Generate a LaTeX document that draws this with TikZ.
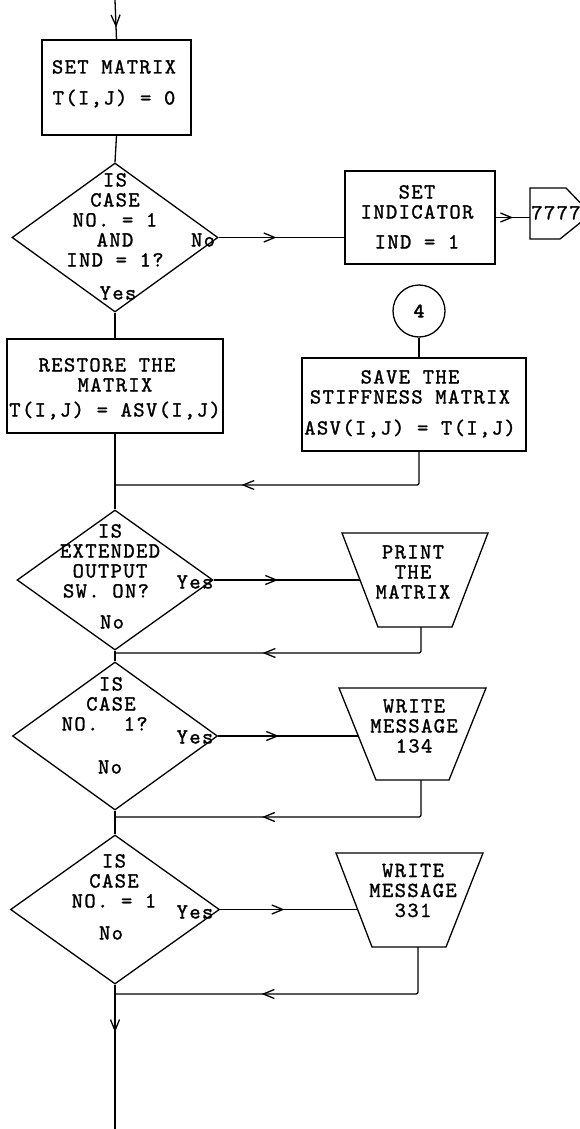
\documentclass[tikz,border=0pt]{standalone}
\usepackage{fontspec}
\newfontfamily\lmt{lmmono10-regular.otf}[LetterSpace=6.5,FakeBold=1.3]
\newfontfamily\lmtb{lmmono10-regular.otf}[FakeBold=3]
\usetikzlibrary{shapes.geometric,arrows.meta,decorations.markings}
\newcommand\sr{\rule[-5pt]{0pt}{23pt}}
\newcommand\tf{\lmt\fontsize{21.5}{20}\selectfont\lineskiplimit=-100pt\relax}
\newcommand\tfb{\lmtb\fontsize{20}{20}\selectfont}
\begin{document}
\begin{tikzpicture}[x=1pt,y=-1pt,line width=1.3pt,
  box/.style={draw,rectangle,inner sep=0pt},
  dia/.style={draw,diamond,inner sep=0pt},
  txt/.style={font=\tf,align=center,inner sep=0pt},
  marr/.style={postaction={decorate,decoration={markings,mark=at position #1 with {\arrow{Straight Barb[length=11pt,width=9pt]}}}}}]
\useasboundingbox (0,0) rectangle (580,1129);
\clip (0,0) rectangle (580,1129);

% boxes and shapes
\node[box,minimum width=149pt,minimum height=95pt] (b1) at (116.5,87.5) {};
\node[txt] (b1t) at (114,82.5) {\sr SET MATRIX\\[11pt]T(I,J) = 0\sr};

\node[dia,minimum width=206pt,minimum height=149pt] (d1) at (115,237.5) {};
\node[txt] (d1t) at (115,220) {\sr IS\\CASE\\NO. = 1\\AND\\IND = 1?\sr};
\node[txt] (d1y) at (118,293) {\sr Yes\sr};
\node[txt] (d1n) at (203,240) {\sr No\sr};

\node[box,minimum width=150pt,minimum height=93pt] (b2) at (420,217.5) {};
\node[txt] (b2t) at (417,217) {\sr SET\\INDICATOR\\[10pt]IND = 1\sr};

% off-page connector
\draw (530,188) -- (566,188) -- (591,214) -- (560,239) -- (530,239) -- cycle;
\coordinate (ow) at (530,217.5);
\node[txt] (ot) at (556,213) {\sr 7777\sr};

\node[circle,draw,minimum size=52pt,inner sep=0pt,font=\tfb] (c4) at (419,311) {4};

\node[box,minimum width=216pt,minimum height=94pt] (b3) at (115,386) {};
\node[txt] (b3t) at (115,387.5) {\sr RESTORE THE\hspace*{16pt}\\MATRIX\\[5pt]T(I,J) = ASV(I,J)\sr};

\node[box,minimum width=224pt,minimum height=93pt] (b4) at (414,404.5) {};
\node[txt] (b4t) at (410,402.5) {\sr SAVE THE\\STIFFNESS MATRIX\\[11pt]ASV(I,J) = T(I,J)\sr};

\node[dia,minimum width=196pt,minimum height=140pt] (d2) at (115,580) {};
\node[txt] (d2t) at (110,561) {\sr IS\\EXTENDED\\OUTPUT\\SW. ON?\hspace*{8pt}\sr};
\node[txt] (d2y) at (195,582) {\sr Yes\sr};
\node[txt] (d2n) at (112,622) {\sr No\sr};

% output trapezia
\draw (342,533) -- (488,533) -- (452,627) -- (378,627) -- cycle;
\coordinate (t1w) at (360,580);
\coordinate (t1s) at (421,627);
\node[txt] (t1t) at (413,572) {\sr PRINT\\THE\\MATRIX\sr};

\node[dia,minimum width=205pt,minimum height=148pt] (d3) at (115,736) {};
\node[txt] (d3t) at (111,704) {\sr IS\\CASE\\NO.\ \ 1?\hspace*{12.6pt}\sr};
\node[txt] (d3y) at (195,737) {\sr Yes\sr};
\node[txt] (d3n) at (110,767) {\sr No\sr};

\draw (339,688) -- (486,688) -- (449,780) -- (376,780) -- cycle;
\coordinate (t2w) at (358,736);
\coordinate (t2s) at (421,780);
\node[txt] (t2t) at (414,726) {\sr WRITE\\MESSAGE\\134\sr};

\node[dia,minimum width=209pt,minimum height=149pt] (d4) at (115,909.5) {};
\node[txt] (d4t) at (114,881) {\sr IS\\CASE\\NO. = 1\sr};
\node[txt] (d4y) at (195,912) {\sr Yes\sr};
\node[txt] (d4n) at (111,933) {\sr No\sr};

\draw (336,853) -- (483,853) -- (446,947) -- (372,947) -- cycle;
\coordinate (t3w) at (357,909.5);
\coordinate (t3s) at (418,947);
\node[txt] (t3t) at (413,890.5) {\sr WRITE\\MESSAGE\\331\sr};

% junction coordinates
\coordinate (top) at (115,0);
\coordinate (j1) at (115,485);
\coordinate (j2) at (115,653);
\coordinate (j3) at (115,817);
\coordinate (j4) at (115,994);
\coordinate (bot) at (115,1129);

% connectors
\draw[marr=0.7] (top) -- (b1.north);
\draw (b1.south) -- (d1.north);
\draw[marr=0.46] (d1.east) -- (d1.east -| b2.west);
\draw[marr=0.51] (b2.east) -- (ow);
\draw (d1.south) -- (b3.north);
\draw (c4.south) -- (c4.south |- b4.north);
\draw (b3.south) -- (d2.north);
\draw[marr=0.624,rounded corners=2pt] (c4.center |- b4.south) |- (j1);
\draw[marr=0.44] (d2.east) -- (t1w);
\draw[marr=0.554,rounded corners=2pt] (t1s) |- (j2);
\draw (d2.south) -- (d3.north);
\draw[marr=0.435] (d3.east) -- (t2w);
\draw[marr=0.57,rounded corners=2pt] (t2s) |- (j3);
\draw (d3.south) -- (d4.north);
\draw[marr=0.47] (d4.east) -- (t3w);
\draw[marr=0.58,rounded corners=2pt] (t3s) |- (j4);
\draw[marr=0.33] (d4.south) -- (bot);
\end{tikzpicture}
\end{document}
